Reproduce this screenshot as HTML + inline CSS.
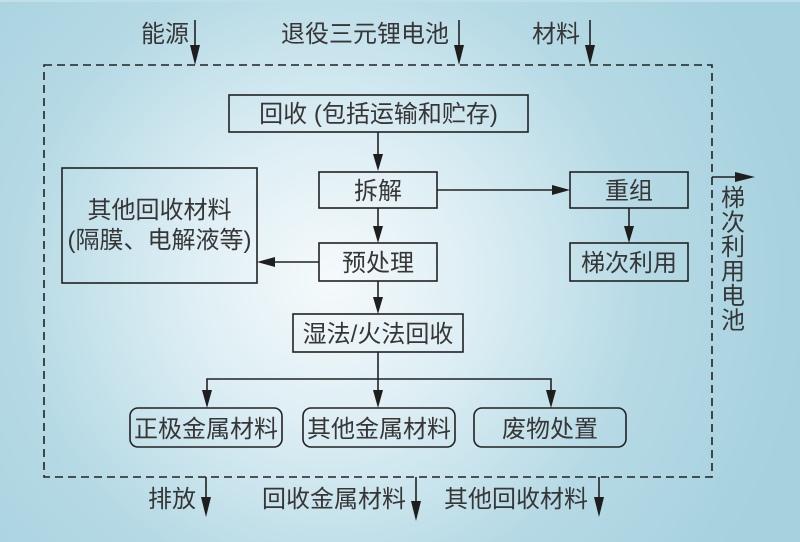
<!DOCTYPE html>
<html><head><meta charset="utf-8"><style>
html,body{margin:0;padding:0;}
body{width:800px;height:542px;overflow:hidden;}
svg{display:block;}
text{font-family:"Liberation Sans","Noto Sans CJK SC",sans-serif;font-size:24px;fill:#363636;}
</style></head><body>
<svg width="800" height="542" viewBox="0 0 800 542" xmlns="http://www.w3.org/2000/svg">
<defs>
<radialGradient id="bg" cx="330" cy="280" r="480" gradientUnits="userSpaceOnUse">
<stop offset="0" stop-color="#f5fafc"/>
<stop offset="0.3" stop-color="#ddeef4"/>
<stop offset="0.65" stop-color="#b6dae5"/>
<stop offset="1" stop-color="#a6d1df"/>
</radialGradient>
</defs>
<rect width="800" height="542" fill="url(#bg)"/>
<rect width="800" height="2" fill="#bfe0ea"/>

<!-- dashed boundary -->
<rect x="44" y="65" width="668" height="412" fill="none" stroke="#222" stroke-width="1.6" stroke-dasharray="8,5"/>

<g stroke="#222" stroke-width="1.6" fill="none">
<!-- top inputs -->
<line x1="195" y1="20" x2="195" y2="48"/>
<line x1="459" y1="20" x2="459" y2="48"/>
<line x1="590" y1="20" x2="590" y2="48"/>
<!-- boxes -->
<rect x="229" y="95" width="299" height="37"/>
<rect x="319" y="172" width="118" height="36"/>
<rect x="319" y="243" width="118" height="38"/>
<rect x="62" y="168" width="195" height="115"/>
<rect x="570" y="172" width="118" height="36"/>
<rect x="570" y="243" width="118" height="38"/>
<rect x="293" y="314" width="170" height="38"/>
<rect x="130" y="408" width="152" height="39" rx="8"/>
<rect x="303" y="408" width="152" height="39" rx="8"/>
<rect x="474" y="408" width="152" height="39" rx="8"/>
<!-- connectors -->
<line x1="378" y1="132" x2="378" y2="156"/>
<line x1="378" y1="208" x2="378" y2="228"/>
<line x1="378" y1="281" x2="378" y2="299"/>
<line x1="437" y1="190" x2="554" y2="190"/>
<line x1="629" y1="208" x2="629" y2="228"/>
<line x1="319" y1="262" x2="273" y2="262"/>
<line x1="378" y1="352" x2="378" y2="392"/>
<polyline points="207,392 207,379 551,379 551,392"/>
<!-- right output -->
<line x1="712" y1="177" x2="737" y2="177"/>
<!-- bottom outputs -->
<line x1="206" y1="477" x2="206" y2="500"/>
<line x1="416" y1="477" x2="416" y2="503"/>
<line x1="599" y1="477" x2="599" y2="500"/>
</g>

<g fill="#1e1e1e">
<polygon points="190,45 200,45 195,65"/>
<polygon points="454,45 464,45 459,65"/>
<polygon points="585,45 595,45 590,65"/>
<polygon points="373,154 383,154 378,171"/>
<polygon points="373,226 383,226 378,243"/>
<polygon points="373,297 383,297 378,314"/>
<polygon points="552,185 552,195 570,190"/>
<polygon points="624,226 634,226 629,243"/>
<polygon points="275,257 275,267 257,262"/>
<polygon points="202,390 212,390 207,408"/>
<polygon points="373,390 383,390 378,408"/>
<polygon points="546,390 556,390 551,408"/>
<polygon points="735,172 735,182 755,177"/>
<polygon points="201,497 211,497 206,517"/>
<polygon points="411,501 421,501 416,521"/>
<polygon points="594,497 604,497 599,517"/>
</g>

<!-- labels -->
<text x="141" y="42">能源</text>
<text x="281" y="42">退役三元锂电池</text>
<text x="532" y="42">材料</text>

<text x="378.5" y="122" text-anchor="middle">回收 (包括运输和贮存)</text>
<text x="378" y="199" text-anchor="middle">拆解</text>
<text x="378" y="271" text-anchor="middle">预处理</text>
<text x="159.5" y="218" text-anchor="middle">其他回收材料</text>
<text x="159.5" y="248" text-anchor="middle">(隔膜、电解液等)</text>
<text x="629" y="199" text-anchor="middle">重组</text>
<text x="629" y="271" text-anchor="middle">梯次利用</text>
<text x="378" y="342" text-anchor="middle">湿法/火法回收</text>
<text x="206" y="437" text-anchor="middle">正极金属材料</text>
<text x="379" y="437" text-anchor="middle">其他金属材料</text>
<text x="550" y="437" text-anchor="middle">废物处置</text>

<text x="733" y="206" text-anchor="middle">梯</text>
<text x="733" y="230.5" text-anchor="middle">次</text>
<text x="733" y="255" text-anchor="middle">利</text>
<text x="733" y="279.5" text-anchor="middle">用</text>
<text x="733" y="304" text-anchor="middle">电</text>
<text x="733" y="328.5" text-anchor="middle">池</text>

<text x="148" y="507">排放</text>
<text x="262" y="507">回收金属材料</text>
<text x="444" y="507">其他回收材料</text>
</svg>
</body></html>
